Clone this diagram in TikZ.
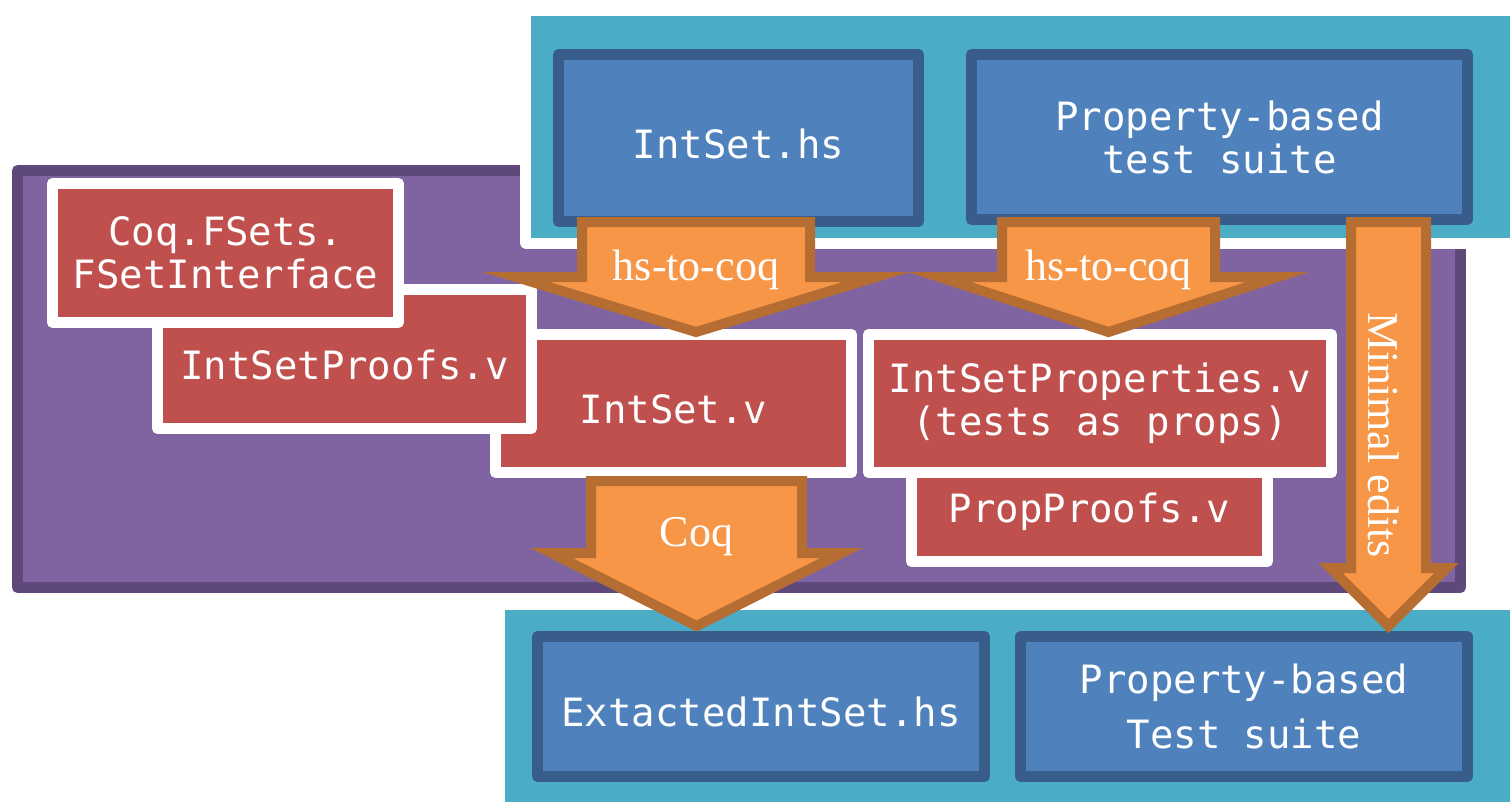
\documentclass[tikz,border=0pt]{standalone}
\usepackage{fontspec}
\newfontfamily\codefont{DejaVu Sans Mono}
\newfontfamily\serifont{Liberation Serif}
\definecolor{coqred}{RGB}{192, 80, 77}
\definecolor{coqpurple}{RGB}{128, 100, 162}
\definecolor{coqpurpledark}{RGB}{94, 73, 122}
\definecolor{hsteal}{RGB}{75, 172, 198}
\definecolor{hsblue}{RGB}{79, 129, 189}
\definecolor{hsbluedark}{RGB}{56, 93, 138}
\definecolor{arrfill}{RGB}{247, 150, 70}
\definecolor{arrline}{RGB}{182, 109, 49}
\usetikzlibrary{positioning, calc}

\begin{document}
\begin{tikzpicture}[x=0.5pt, y=-0.5pt,
  container/.style={draw=white, line width=5.5pt, line join=round, inner sep=0pt},
  hsbox/.style={draw=hsbluedark, fill=hsblue, line width=5.5pt, line join=round, text=white, align=center, inner sep=0pt, font=\codefont\fontsize{19.5}{21.5}\selectfont},
  coqbox/.style={draw=white, fill=coqred, line width=5.5pt, line join=round, text=white, align=center, inner sep=0pt, font=\codefont\fontsize{19.5}{21.5}\selectfont},
  oneline/.style={text height=20pt, text depth=0pt},
  blockarrow/.style={draw=arrline, fill=arrfill, line width=5pt, line join=miter},
  arrowlabel/.style={text=white, inner sep=0pt, font=\serifont\fontsize{22}{26}\selectfont}
]
  \useasboundingbox (0,0) rectangle (1512,810);

  % Coq side
  \node[container, draw=coqpurpledark, fill=coqpurple, minimum width=721.5pt, minimum height=208.5pt] (coqside) at (739,379) {};

  % Haskell side
  \node[container, fill=hsteal, minimum width=495pt, minimum height=116.5pt] (hstop) at (1020.5,126.5) {};
  \node[hsbox, oneline, minimum width=180pt, minimum height=83.5pt] (inths) at (738.5,138) {IntSet.hs};
  \node[hsbox, minimum width=248pt, minimum height=82.5pt] (pbtop) at (1219.5,137) {Property-based\\test suite};

  \node[container, fill=hsteal, minimum width=508pt, minimum height=101.5pt] (hsbot) at (1007.5,705.5) {};
  \node[hsbox, oneline, minimum width=223.5pt, minimum height=70pt] (extracted) at (761,706.5) {ExtactedIntSet.hs};
  \node[hsbox, font=\codefont\fontsize{19.5}{27.5}\selectfont, minimum width=223.5pt, minimum height=70pt] (pbbot) at (1244,706.5) {Property-based\\Test suite};

  % Coq files
  \node[coqbox, oneline, minimum width=178pt, minimum height=69pt] (intv) at (673.5,403.5) {IntSet.v};
  \node[coqbox, oneline, minimum width=187pt, minimum height=69.5pt] (proofs) at (344.5,359) {IntSetProofs.v};
  \node[coqbox, minimum width=173pt, minimum height=69.5pt] (fsets) at (225.5,253) {Coq.FSets.\\FSetInterface};
  \node[coqbox, oneline, minimum width=178pt, minimum height=59.5pt] (propproofs) at (1089.5,502) {PropProofs.v};
  \node[coqbox, minimum width=231.5pt, minimum height=69pt] (props) at (1100,403.5) {IntSetProperties.v\\(tests as props)};

  % Translation arrows
  \coordinate (hsout) at (696,222);
  \coordinate (vin) at (696,332);
  \draw[blockarrow] (hsout) ++(-114,0) -- ++(228,0) -- ++(0,55) -- ++(66,0) -- (vin) -- ++(-180,-55) -- ++(66,0) -- cycle;
  \node[arrowlabel] (lab1) at (696,270) {hs-to-coq};

  \coordinate (pbout) at (1108.5,222);
  \coordinate (propin) at (1108.5,332);
  \draw[blockarrow] (pbout) ++(-106.5,0) -- ++(213,0) -- ++(0,55) -- ++(62.5,0) -- (propin) -- ++(-169,-55) -- ++(62.5,0) -- cycle;
  \node[arrowlabel] (lab2) at (1108.5,270) {hs-to-coq};

  \coordinate (vout) at (696.5,481);
  \coordinate (exin) at (696.5,626);
  \draw[blockarrow] (vout) ++(-105.5,0) -- ++(211,0) -- ++(0,72) -- ++(39.5,0) -- (exin) -- ++(-145,-73) -- ++(39.5,0) -- cycle;
  \node[arrowlabel] (lab3) at (696.5,537) {Coq};

  \coordinate (pbdown) at (1388.5,222);
  \coordinate (pbin) at (1388.5,626);
  \draw[blockarrow] (pbdown) ++(-37.5,0) -- ++(75,0) -- ++(0,346) -- ++(20.5,0) -- (pbin) -- ++(-58,-58) -- ++(20.5,0) -- cycle;
  \node[arrowlabel, rotate=-90] (lab4) at (1384,435) {Minimal edits};
\end{tikzpicture}
\end{document}
